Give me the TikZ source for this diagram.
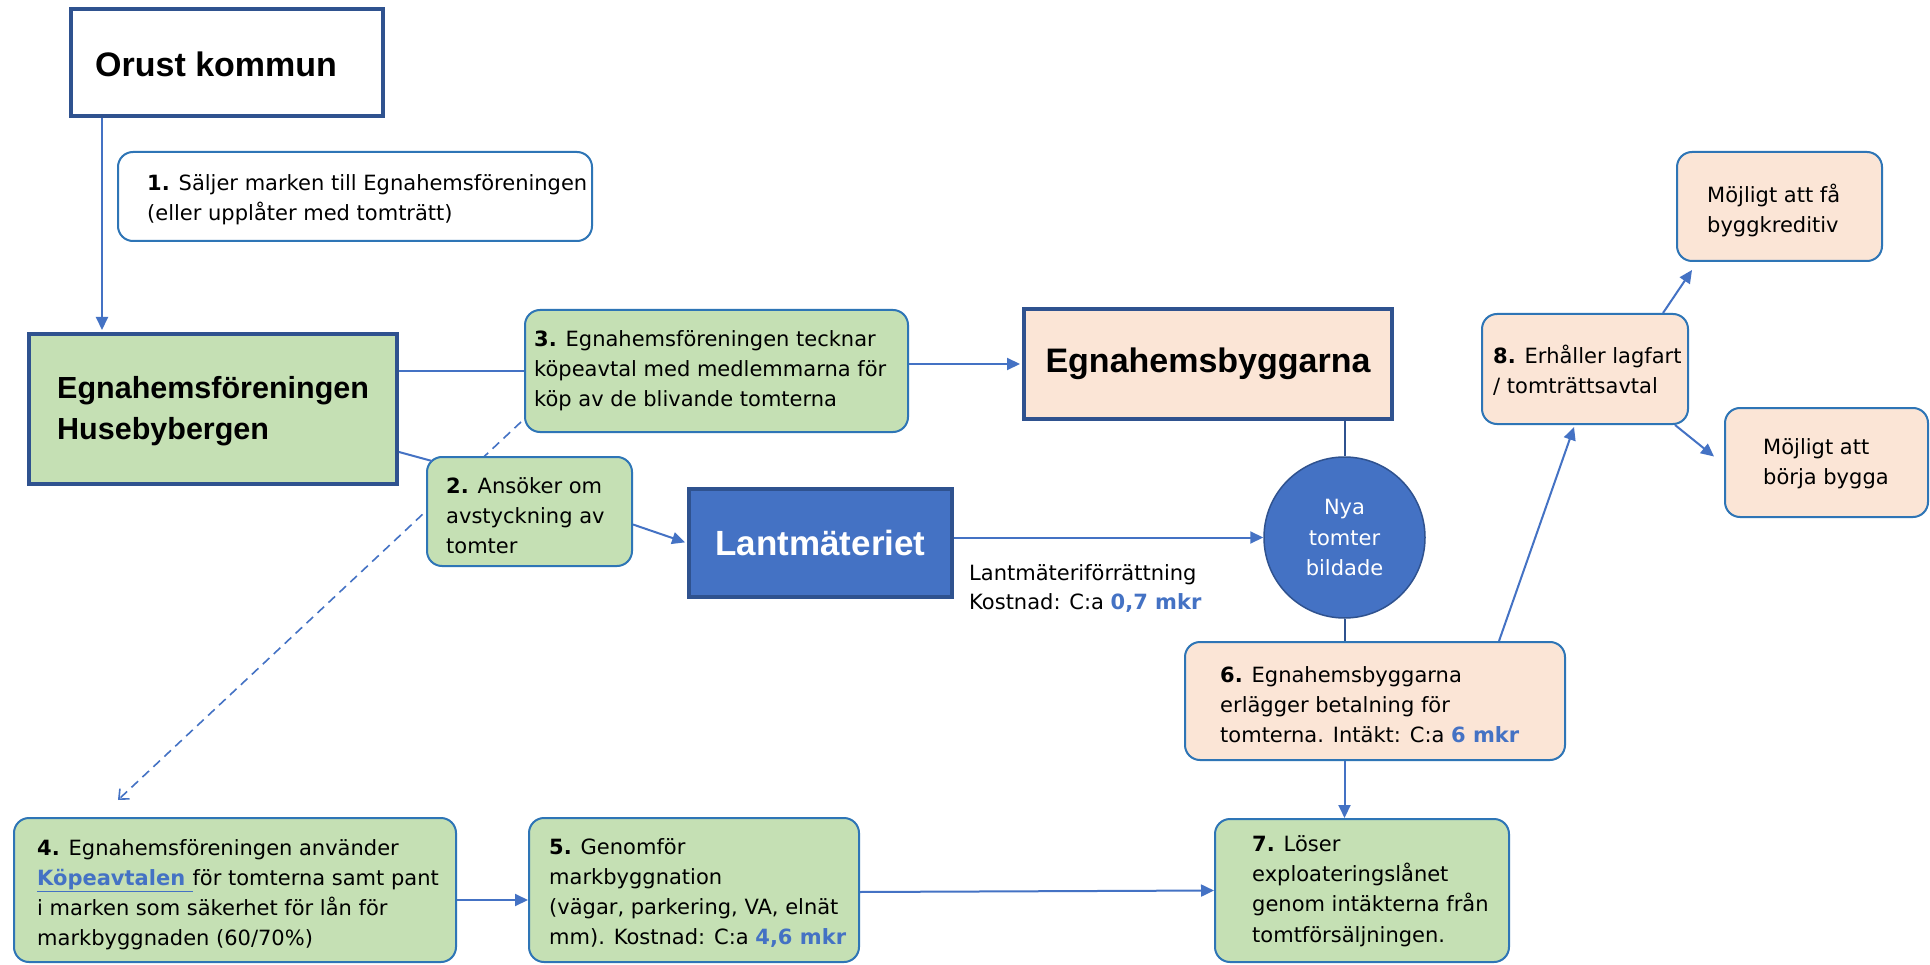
\documentclass[tikz,border=0pt]{standalone}
\usepackage{fontspec}
\setmainfont{DejaVu Sans}
\newfontfamily\titlefont{Liberation Sans}
\usetikzlibrary{arrows.meta,backgrounds}
\definecolor{gfill}{HTML}{C5E0B4}
\definecolor{pfill}{HTML}{FBE5D6}
\definecolor{navy}{HTML}{2F528F}
\definecolor{accent}{HTML}{4472C4}
\definecolor{rborder}{HTML}{2E75B6}
\begin{document}
\begin{tikzpicture}[x=1pt,y=-1pt,
  heavy/.style={draw=navy, line width=4pt, inner sep=0pt},
  rbox/.style={draw=rborder, line width=2pt, rounded corners=15pt, inner sep=0pt},
  txt/.style={inner sep=0pt, align=left, anchor=west, font=\fontsize{21}{30}\selectfont},
  ttl/.style={inner sep=0pt, align=left, anchor=west, font=\titlefont\bfseries\fontsize{34}{40}\selectfont},
  arr/.style={draw=accent, line width=2pt, -{Triangle[length=13pt,width=12pt]}},
  ln/.style={draw=accent, line width=2pt},
  lnd/.style={draw=navy, line width=2pt},
  dsh/.style={draw=accent, line width=1.6pt, dash pattern=on 9pt off 6pt, -{Straight Barb[length=8pt,width=14pt]}},
  hl/.style={text=accent, font=\bfseries}
]
\begin{pgfonlayer}{background}
\fill[white] (0,0) rectangle (1930,965);
\end{pgfonlayer}
\useasboundingbox (0,0) rectangle (1930,965);

% boxes
\node[heavy, fill=white, minimum width=312, minimum height=107] (orust) at (227,62.5) {};
\node[ttl] (orustT) at (95,64.8) {Orust kommun};

\node[rbox, fill=white, minimum width=474, minimum height=89] (b1) at (355,196.5) {};
\node[txt] (b1T) at (147,200) {\textbf{1.} Säljer marken till Egnahemsföreningen\\(eller upplåter med tomträtt)};

\node[heavy, fill=gfill, minimum width=368, minimum height=150] (egn) at (213,409) {};
\node[ttl, font=\titlefont\bfseries\fontsize{30.5}{41}\selectfont] (egnT) at (57,410.7) {Egnahemsföreningen\\Husebybergen};

\node[rbox, fill=gfill, minimum width=383, minimum height=122] (b3) at (716.5,371) {};
\node[txt] (b3T) at (534,371) {\textbf{3.} Egnahemsföreningen tecknar\\köpeavtal med medlemmarna för\\köp av de blivande tomterna};

\node[heavy, fill=pfill, minimum width=368, minimum height=110, font=\titlefont\bfseries\fontsize{34}{40}\selectfont] (egnby) at (1208,364) {Egnahemsbyggarna};

\node[rbox, fill=gfill, minimum width=205, minimum height=109] (b2) at (529.5,511.5) {};
\node[txt] (b2T) at (446,516) {\textbf{2.} Ansöker om\\avstyckning av\\tomter};

\node[heavy, fill=accent, minimum width=263, minimum height=108, text=white, font=\titlefont\bfseries\fontsize{35}{40}\selectfont] (lantm) at (820.5,543) {Lantmäteriet};

\node[txt, anchor=north west, font=\fontsize{21}{29}\selectfont] (lbl) at (969,564) {Lantmäteriförrättning\\Kostnad: C:a {\color{accent}\bfseries 0,7 mkr}};

\node[circle, fill=accent, draw=navy, line width=1.5pt, minimum size=161, inner sep=0pt, text=white, align=center, font=\fontsize{21}{30.5}\selectfont] (circ) at (1344.5,537.5) {Nya\\tomter\\bildade};

\node[rbox, fill=pfill, minimum width=380, minimum height=118] (b6) at (1375,701) {};
\node[txt] (b6T) at (1220,705) {\textbf{6.} Egnahemsbyggarna\\erlägger betalning för\\tomterna. Intäkt: C:a {\color{accent}\bfseries 6 mkr}};

\node[rbox, fill=pfill, minimum width=206, minimum height=110] (b8) at (1585,369) {};
\node[txt] (b8T) at (1493,370) {\textbf{8.} Erhåller lagfart\\/ tomträttsavtal};

\node[rbox, fill=pfill, minimum width=205, minimum height=109] (maf) at (1779.5,206.5) {};
\node[txt] (mafT) at (1707,210) {Möjligt att få\\byggkreditiv};

\node[rbox, fill=pfill, minimum width=203, minimum height=109] (mab) at (1826.5,462.5) {};
\node[txt] (mabT) at (1763,464) {Möjligt att\\börja bygga};

\node[rbox, fill=gfill, minimum width=442, minimum height=144] (b4) at (235,890) {};
\node[txt] (b4T) at (37,895) {\textbf{4.} Egnahemsföreningen använder\\{\color{accent}\bfseries\underline{Köpeavtalen\ }}för tomterna samt pant\\i marken som säkerhet för lån för\\markbyggnaden (60/70\%)};

\node[rbox, fill=gfill, minimum width=330, minimum height=144] (b5) at (694,890) {};
\node[txt] (b5T) at (549,893) {\textbf{5.} Genomför\\markbyggnation\\(vägar, parkering, VA, elnät\\mm). Kostnad: C:a {\color{accent}\bfseries 4,6 mkr}};

\node[rbox, fill=gfill, minimum width=294, minimum height=143] (b7) at (1362,890.5) {};
\node[txt, font=\fontsize{21}{30.3}\selectfont] (b7T) at (1252,891) {\textbf{7.} Löser\\exploateringslånet\\genom intäkterna från\\tomtförsäljningen.};

% connectors
\coordinate (x1) at (102,0);
\draw[arr, shorten >=2pt] (orust.south -| x1) -- (egn.north -| x1);
\draw[ln] (egn.east |- b3.west) -- (b3.west);
\draw[arr, shorten >=2pt] (b3.east |- egnby.west) -- (egnby.west);
\draw[ln] ([yshift=-43pt]egn.east) -- ([shift={(6,5)}]b2.north west);
\draw[arr, shorten >=2pt] ([yshift=-13pt]b2.east) -- (lantm.west);
\draw[arr] (lantm.east |- circ.west) -- (circ.west);
\draw[lnd] (circ.north |- egnby.south) -- (circ.north);
\draw[lnd] (circ.south) -- (circ.south |- b6.north);
\draw[arr] ([xshift=124pt]b6.north) -- ([shift={(-11,2)}]b8.south);
\draw[arr] ([xshift=78pt]b8.north) -- ([shift={(-87.5,8)}]maf.south);
\draw[arr] ([xshift=-14pt]b8.south east) -- ([shift={(-10,-6)}]mab.west);
\draw[arr] (circ.south |- b6.south) -- (circ.south |- b7.north);
\coordinate (p45) at ([yshift=-10pt]b4.east);
\draw[arr] (p45) -- (p45 -| b5.west);
\draw[arr] ([yshift=-2pt]b5.east) -- (b7.west);
\coordinate (dEnd) at (118,800);
\begin{pgfonlayer}{background}
\draw[dsh] ([shift={(-3,-11)}]b3.south west) -- (dEnd);
\end{pgfonlayer}
\end{tikzpicture}
\end{document}
